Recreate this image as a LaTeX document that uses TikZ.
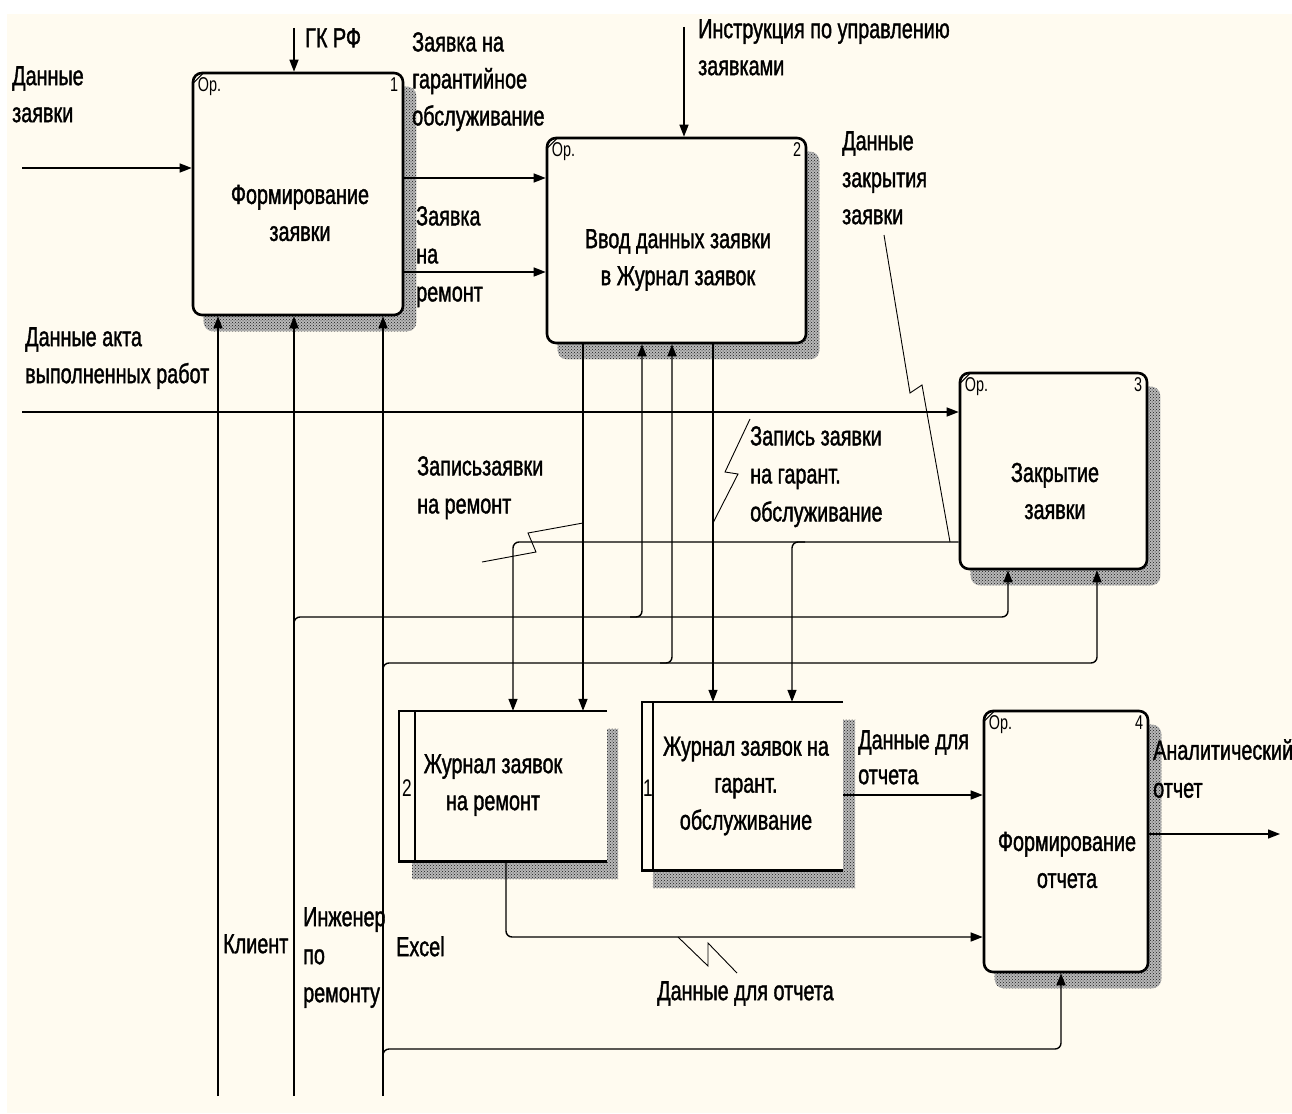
\documentclass[tikz,border=0pt]{standalone}
\usepackage{fontspec}
\setmainfont{Liberation Sans}[FakeStretch=0.72,FakeBold=1.3]
\newfontfamily\thinfont{Liberation Sans}[FakeStretch=0.72]
\usetikzlibrary{arrows.meta,patterns,calc}
\definecolor{cream}{RGB}{255,251,240}
\pgfdeclarelayer{bgl}
\pgfdeclarelayer{shl}
\pgfsetlayers{bgl,shl,main}
\begin{document}
\begin{tikzpicture}[x=1pt,y=-1pt,
  lbl/.style={anchor=north west, inner sep=0pt, align=left, font=\fontsize{27.5}{37}\selectfont},
  ctr/.style={anchor=center, inner sep=0pt, align=center, font=\fontsize{27.5}{37}\selectfont},
  small/.style={inner sep=0pt, font=\thinfont\fontsize{20}{22}\selectfont},
  proc/.style={draw, line width=2.6pt, rounded corners=9pt, fill=cream, inner sep=0pt},
  store/.style={fill=cream, inner sep=0pt},
  sline/.style={line width=2.6pt, line join=miter},
  arr/.style={line width=1.4pt, -{Triangle[length=12pt,width=9pt]}},
  sq/.style={line width=0.9pt},
  shd/.style={fill=black!28, pattern=crosshatch dots, pattern color=black!90},
]
\begin{pgfonlayer}{bgl}
\fill[white] (0,0) rectangle (1292,1113);
\fill[cream] (7,14) rectangle (1292,1113);
\end{pgfonlayer}
\useasboundingbox (0,0) rectangle (1292,1113);

% ---------- activity boxes ----------
\node[proc, minimum width=210pt, minimum height=242pt] (b1) at (298,194) {};
\node[proc, minimum width=259pt, minimum height=205pt] (b2) at (676.5,240.5) {};
\node[proc, minimum width=187pt, minimum height=196pt] (b3) at (1053.5,471) {};
\node[proc, minimum width=164pt, minimum height=261pt] (b4) at (1066,841.5) {};

\begin{pgfonlayer}{shl}
\foreach \b in {b1,b2,b3,b4}{
  \fill[black!28, rounded corners=9pt] ($(\b.north west)+(12,15)$) rectangle ($(\b.south east)+(12,15)$);
  \fill[pattern=crosshatch dots, pattern color=black!90, rounded corners=9pt] ($(\b.north west)+(12,15)$) rectangle ($(\b.south east)+(12,15)$);
}
\end{pgfonlayer}

\foreach \b/\n in {b1/1,b2/2,b3/3,b4/4}{
  \draw[line width=1pt] ($(\b.north west)+(1,12)$) -- ($(\b.north west)+(12,1)$);
  \node[small, anchor=north west] (\b op) at ($(\b.north west)+(6,6)$) {Ор.};
  \node[small, anchor=north east] (\b num) at ($(\b.north east)+(-6,6)$) {\n};
}

\node[ctr] (b1t) at (300,213) {Формирование\\заявки};
\node[ctr] (b2t) at (678,260) {Ввод данных заявки\\в Журнал заявок};
\node[ctr] (b3t) at (1055,491) {Закрытие\\заявки};
\node[ctr] (b4t) at (1067,860) {Формирование\\отчета};

% ---------- data stores ----------
\node[store, minimum width=208pt, minimum height=150pt] (s1) at (503,786) {};
\node[store, minimum width=201pt, minimum height=168pt] (s2) at (742.5,786) {};
\begin{pgfonlayer}{shl}
\fill[black!28] ($(s1.north west)+(13,18)$) rectangle ($(s1.south east)+(11,18)$);
\fill[pattern=crosshatch dots, pattern color=black!90] ($(s1.north west)+(13,18)$) rectangle ($(s1.south east)+(11,18)$);
\fill[black!28] ($(s2.north west)+(11,18)$) rectangle ($(s2.south east)+(12,18)$);
\fill[pattern=crosshatch dots, pattern color=black!90] ($(s2.north west)+(11,18)$) rectangle ($(s2.south east)+(12,18)$);
\end{pgfonlayer}
\draw[sline] (s1.north east) -- (s1.north west) -- (s1.south west) -- (s1.south east);
\draw[line width=2pt] ($(s1.north west)+(16,0)$) -- ($(s1.south west)+(16,0)$);
\draw[sline] (s2.north east) -- (s2.north west) -- (s2.south west) -- (s2.south east);
\draw[line width=2pt] ($(s2.north west)+(11,0)$) -- ($(s2.south west)+(11,0)$);
\node[small, font=\thinfont\fontsize{24}{26}\selectfont] (s1n) at (407,788) {2};
\node[small, font=\thinfont\fontsize{24}{26}\selectfont] (s2n) at (648,788) {1};
\node[ctr] (s1t) at (493,785) {Журнал заявок\\на ремонт};
\node[ctr] (s2t) at (746,786) {Журнал заявок на\\гарант.\\обслуживание};

% ---------- coordinates ----------
\coordinate (in1) at (22,168);
\coordinate (gk) at (294,28);
\coordinate (ins) at (684,27);
\coordinate (akt) at (22,412);
\coordinate (kl) at (218,1096);
\coordinate (ing) at (294,1096);
\coordinate (xl) at (383,1096);
\coordinate (out4) at (1280,834);

% ---------- arrows ----------
\draw[arr] (in1) -- (b1.west |- in1);
\draw[arr] (gk) -- (gk |- b1.north);
\draw[arr] (b1.east |- 0,178) -- (b2.west |- 0,178);
\draw[arr] (b1.east |- 0,272) -- (b2.west |- 0,272);
\draw[arr] (ins) -- (ins |- b2.north);
\draw[arr] (akt) -- (b3.west |- akt);

\draw[arr] (kl) -- (kl |- b1.south);
\draw[arr] (ing) -- (ing |- b1.south);
\draw[arr] (xl) -- (xl |- b1.south);
\draw[arr, rounded corners=6pt] (294,630) -- (294,617) -- (1008,617) -- (1008,0 |- b3.south);
\draw[arr, rounded corners=6pt] (630,617) -- (642,617) -- (642,0 |- b2.south);
\draw[arr, rounded corners=6pt] (383,676) -- (383,663) -- (1097,663) -- (1097,0 |- b3.south);
\draw[arr, rounded corners=6pt] (660,663) -- (672,663) -- (672,0 |- b2.south);
\draw[arr, rounded corners=6pt] (383,1062) -- (383,1049) -- (1061,1049) -- (1061,0 |- b4.south);

\draw[arr] (583,0 |- b2.south) -- (583,0 |- s1.north);
\draw[arr] (713,0 |- b2.south) -- (713,0 |- s2.north);
\draw[arr, rounded corners=6pt] (b3.west |- 0,542) -- (513,542) -- (513,0 |- s1.north);
\draw[arr, rounded corners=6pt] (805,542) -- (792,542) -- (792,0 |- s2.north);
\draw[arr, rounded corners=6pt] (506,0 |- s1.south) -- (506,937) -- (b4.west |- 0,937);
\draw[arr] (s2.east |- 0,795) -- (b4.west |- 0,795);
\draw[arr] (b4.east |- out4) -- (out4);

% ---------- label leaders ----------
\draw[sq] (884,235) -- (910,393) -- (922,385) -- (950,542);
\draw[sq] (583,523) -- (528,533) -- (536,552) -- (482,562);
\draw[sq] (750,419) -- (725,472) -- (738,474) -- (713,523);
\draw[sq] (678,937) -- (708,966) -- (708,943) -- (737,973);

% ---------- labels ----------
\node[lbl] (l1) at (12,66) {Данные\\заявки};
\node[lbl] (l2) at (305,28) {ГК РФ};
\node[lbl] (l3) at (412,32) {Заявка на\\гарантийное\\обслуживание};
\node[lbl, font=\fontsize{27.5}{38}\selectfont] (l4) at (416,206) {Заявка\\на\\ремонт};
\node[lbl] (l5) at (698,19) {Инструкция по управлению\\заявками};
\node[lbl] (l6) at (842,131) {Данные\\закрытия\\заявки};
\node[lbl] (l7) at (25,327) {Данные акта\\выполненных работ};
\node[lbl, font=\fontsize{27.5}{38}\selectfont] (l8) at (417,456) {Записьзаявки\\на ремонт};
\node[lbl, font=\fontsize{27.5}{38}\selectfont] (l9) at (750,426) {Запись заявки\\на гарант.\\обслуживание};
\node[lbl, font=\fontsize{27.5}{35}\selectfont] (l10) at (858,730) {Данные для\\отчета};
\node[lbl, font=\fontsize{27.5}{38}\selectfont] (l11) at (1153,739) {Аналитический\\отчет};
\node[lbl] (l12) at (223,934) {Клиент};
\node[lbl, font=\fontsize{27.5}{38}\selectfont] (l13) at (303,907) {Инженер\\по\\ремонту};
\node[lbl] (l14) at (396,936) {Excel};
\node[lbl] (l15) at (657,981) {Данные для отчета};
\end{tikzpicture}
\end{document}
